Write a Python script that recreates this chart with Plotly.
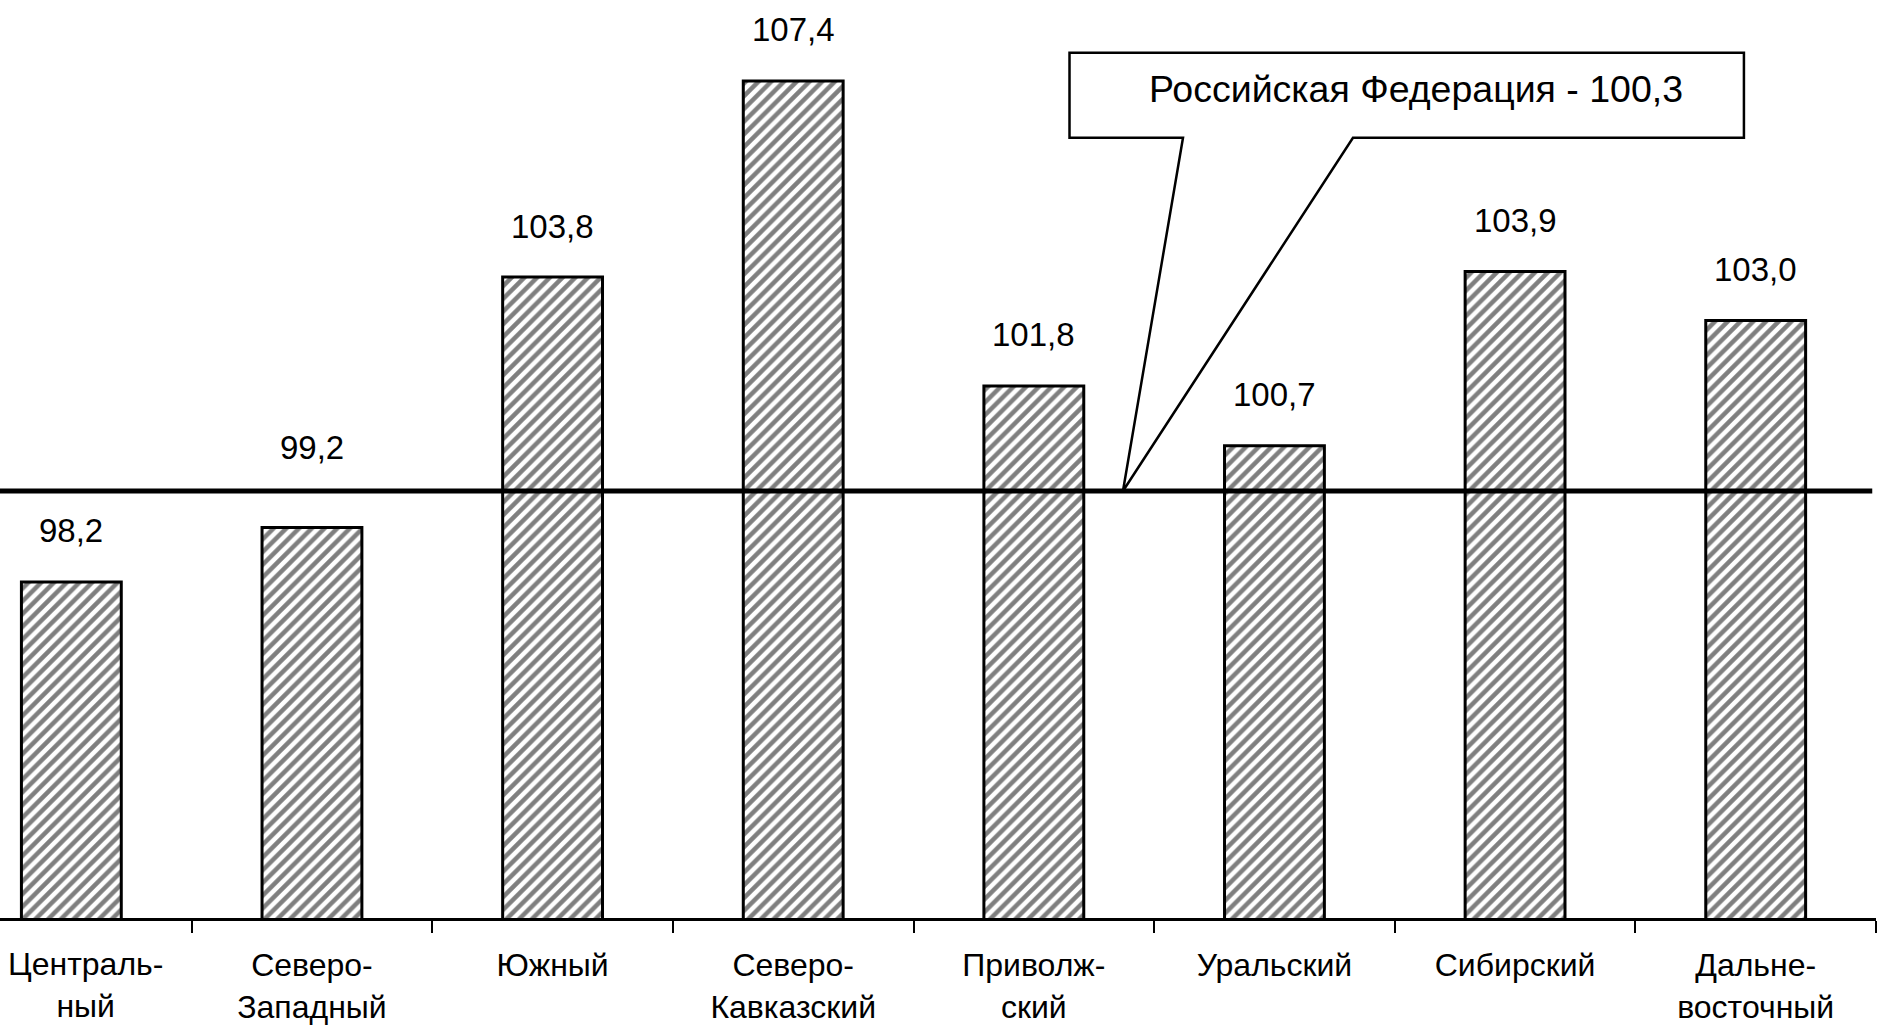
import plotly.graph_objects as go

# ---- data ----
categories = [
    "Централь-<br>ный",
    "Северо-<br>Западный",
    "Южный",
    "Северо-<br>Кавказский",
    "Приволж-<br>ский",
    "Уральский",
    "Сибирский",
    "Дальне-<br>восточный",
]
values = [98.2, 99.2, 103.8, 107.4, 101.8, 100.7, 103.9, 103.0]
rf_value = 100.3          # Российская Федерация (label value)
rf_line_level = 99.87     # level at which the reference line is drawn in the picture
rf_label = "Российская Федерация - "

# ---- style ----
FONT = "Liberation Sans"
W, H = 1878, 1028
x_range = [-0.2965, 7.5]
y_range = [92.03, 108.887]

def fmt(v):
    return f"{v:.1f}".replace(".", ",")

# first category label is drawn as a left-anchored annotation (as in the original
# it is nudged right so that it is not cut at the left edge)
tick_text = ["" if i == 0 else c for i, c in enumerate(categories)]

fig = go.Figure()
fig.add_trace(go.Bar(
    x=categories,
    y=values,
    width=0.415,
    marker=dict(
        color="white",
        line=dict(color="black", width=3),
        pattern=dict(shape="/", fgcolor="black", bgcolor="white", size=9, solidity=0.5),
    ),
    hoverinfo="skip",
))

fig.add_annotation(
    xref="paper", yref="paper", x=0.0032, y=0, xanchor="left", yanchor="middle",
    yshift=-67, text=categories[0], showarrow=False, align="center",
    font=dict(family=FONT, size=32, color="black"),
)

# value labels above bars
for i, (c, v) in enumerate(zip(categories, values)):
    shift = 80 if i == 1 else 51
    fig.add_annotation(
        x=c, y=v, text=fmt(v), showarrow=False,
        yanchor="middle", yshift=shift,
        font=dict(family=FONT, size=33, color="black"),
    )

# reference line (Russian Federation)
fig.add_shape(
    type="line", xref="paper", yref="y",
    x0=0, x1=0.998, y0=rf_line_level, y1=rf_line_level,
    line=dict(color="black", width=5), layer="above",
)

# callout box with wedge pointer (x in paper units, y in data units)
bx0, bx1 = 0.5701, 0.9296
by0, by1 = 106.358, 107.919
lx, rx = 0.6306, 0.7212
tipx = 0.5986
path = (f"M {bx0} {by0} L {bx0} {by1} L {bx1} {by1} L {bx1} {by0} "
        f"L {rx} {by0} L {tipx} {rf_line_level} L {lx} {by0} Z")
fig.add_shape(type="path", xref="paper", yref="y", path=path,
              fillcolor="white", line=dict(color="black", width=2.5), layer="above")
fig.add_annotation(
    xref="paper", x=0.7548, y=107.26, text=rf_label + fmt(rf_value), showarrow=False,
    xanchor="center", yanchor="middle",
    font=dict(family=FONT, size=37.5, color="black"),
)

fig.update_layout(
    width=W, height=H,
    margin=dict(l=0, r=2, t=0, b=110, autoexpand=False),
    paper_bgcolor="white", plot_bgcolor="white",
    showlegend=False,
)
fig.update_xaxes(
    type="category",
    range=x_range,
    automargin=False,
    tickmode="array",
    tickvals=categories,
    ticktext=tick_text,
    tickson="boundaries",
    ticklabeloverflow="allow",
    ticklabelstandoff=17,
    showline=True, linecolor="black", linewidth=2.5,
    ticks="outside", ticklen=12, tickwidth=2, tickcolor="black",
    showgrid=False, zeroline=False,
    tickfont=dict(family=FONT, size=32, color="black"),
)
fig.update_yaxes(range=y_range, visible=False, showgrid=False, zeroline=False)

fig.write_html("out.html", config={"displayModeBar": False},
               post_script="document.body.style.margin='0';")
